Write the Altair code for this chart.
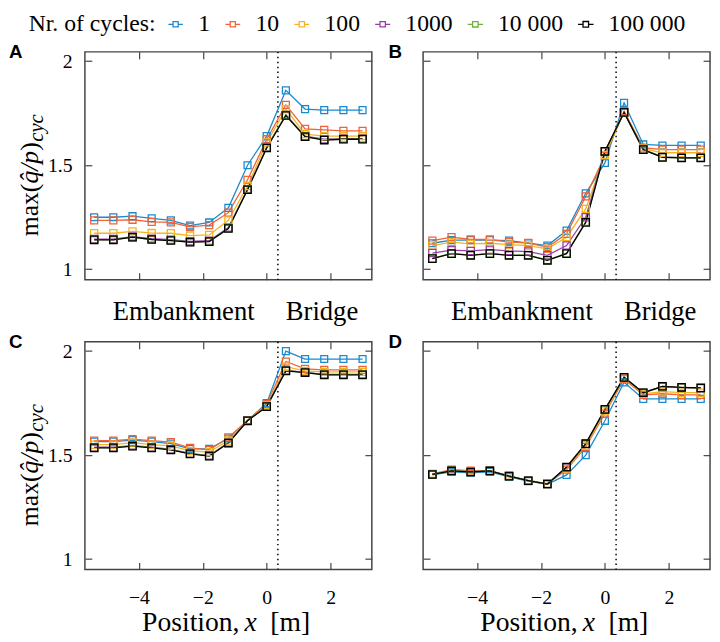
import altair as alt
import pandas as pd

# ---------------- data ----------------
x_pos = [-5.4, -4.8, -4.2, -3.6, -3.0, -2.4, -1.8, -1.2, -0.6, 0.0, 0.6, 1.2, 1.8, 2.4, 3.0]
cycles = ["1", "10", "100", "1000", "10 000", "100 000"]
colors = ["#1a8acd", "#ef6339", "#f4b41f", "#9a3ea6", "#70b23c", "#000000"]

a_1 = [1.250, 1.250, 1.255, 1.245, 1.235, 1.210, 1.225, 1.295, 1.500, 1.640, 1.860, 1.770, 1.765, 1.765, 1.765]
a_10 = [1.235, 1.235, 1.238, 1.228, 1.225, 1.204, 1.212, 1.272, 1.430, 1.625, 1.790, 1.675, 1.670, 1.665, 1.665]
a_100 = [1.173, 1.173, 1.182, 1.174, 1.173, 1.162, 1.165, 1.235, 1.400, 1.610, 1.770, 1.650, 1.640, 1.640, 1.640]
a_1000 = [1.145, 1.145, 1.157, 1.147, 1.142, 1.134, 1.137, 1.200, 1.385, 1.588, 1.742, 1.640, 1.625, 1.628, 1.628]
a_10000 = [1.142, 1.142, 1.153, 1.144, 1.139, 1.131, 1.134, 1.197, 1.383, 1.585, 1.741, 1.638, 1.623, 1.626, 1.626]
a_100000 = [1.141, 1.141, 1.154, 1.143, 1.138, 1.130, 1.133, 1.196, 1.382, 1.583, 1.739, 1.637, 1.621, 1.625, 1.625]

b_1 = [1.125, 1.140, 1.140, 1.140, 1.138, 1.125, 1.114, 1.186, 1.365, 1.511, 1.800, 1.600, 1.595, 1.595, 1.595]
b_10 = [1.138, 1.154, 1.143, 1.143, 1.130, 1.127, 1.106, 1.170, 1.350, 1.545, 1.760, 1.585, 1.575, 1.575, 1.575]
b_100 = [1.114, 1.130, 1.122, 1.125, 1.118, 1.114, 1.098, 1.154, 1.290, 1.550, 1.755, 1.580, 1.560, 1.560, 1.560]
b_1000 = [1.078, 1.092, 1.088, 1.094, 1.088, 1.085, 1.067, 1.114, 1.250, 1.565, 1.754, 1.575, 1.540, 1.537, 1.537]
b_10000 = [1.052, 1.076, 1.068, 1.076, 1.068, 1.068, 1.044, 1.077, 1.228, 1.567, 1.754, 1.575, 1.539, 1.536, 1.536]
b_100000 = [1.051, 1.075, 1.067, 1.075, 1.067, 1.067, 1.043, 1.075, 1.225, 1.567, 1.754, 1.575, 1.538, 1.535, 1.535]

c_1 = [1.565, 1.565, 1.572, 1.565, 1.555, 1.530, 1.530, 1.580, 1.667, 1.750, 2.000, 1.962, 1.962, 1.962, 1.962]
c_10 = [1.570, 1.570, 1.577, 1.570, 1.562, 1.535, 1.525, 1.585, 1.667, 1.745, 1.950, 1.915, 1.910, 1.910, 1.910]
c_100 = [1.550, 1.550, 1.560, 1.550, 1.545, 1.520, 1.515, 1.570, 1.667, 1.740, 1.925, 1.905, 1.900, 1.900, 1.900]
c_1000 = [1.538, 1.538, 1.546, 1.538, 1.528, 1.508, 1.498, 1.560, 1.666, 1.735, 1.908, 1.898, 1.888, 1.888, 1.888]
c_10000 = [1.536, 1.536, 1.544, 1.536, 1.526, 1.507, 1.496, 1.559, 1.665, 1.734, 1.906, 1.898, 1.887, 1.887, 1.887]
c_100000 = [1.535, 1.535, 1.543, 1.535, 1.525, 1.506, 1.495, 1.558, 1.665, 1.733, 1.905, 1.897, 1.886, 1.886, 1.886]

d_1 = [1.405, 1.420, 1.415, 1.420, 1.395, 1.375, 1.360, 1.405, 1.500, 1.665, 1.850, 1.770, 1.770, 1.770, 1.770]
d_10 = [1.410, 1.430, 1.425, 1.425, 1.400, 1.378, 1.362, 1.430, 1.540, 1.700, 1.865, 1.790, 1.795, 1.790, 1.790]
d_100 = [1.408, 1.427, 1.421, 1.425, 1.400, 1.378, 1.362, 1.435, 1.545, 1.710, 1.870, 1.795, 1.805, 1.800, 1.800]
d_1000 = [1.407, 1.424, 1.419, 1.424, 1.399, 1.377, 1.361, 1.440, 1.553, 1.718, 1.873, 1.800, 1.828, 1.824, 1.822]
d_10000 = [1.407, 1.424, 1.419, 1.424, 1.399, 1.377, 1.361, 1.442, 1.554, 1.719, 1.874, 1.800, 1.830, 1.825, 1.823]
d_100000 = [1.407, 1.424, 1.419, 1.424, 1.399, 1.377, 1.361, 1.443, 1.555, 1.720, 1.874, 1.800, 1.831, 1.826, 1.823]

panels = {
    "A": [a_1, a_10, a_100, a_1000, a_10000, a_100000],
    "B": [b_1, b_10, b_100, b_1000, b_10000, b_100000],
    "C": [c_1, c_10, c_100, c_1000, c_10000, c_100000],
    "D": [d_1, d_10, d_100, d_1000, d_10000, d_100000],
}

bridge_start = [0.35]
annot_labels = ["Embankment", "Bridge"]
annot_x = [-2.6, 1.73]

y_ticks = [1, 1.5, 2]
x_ticks = [-4, -2, 0, 2]

rows = []
for pname, series in panels.items():
    for cyc, vals in zip(cycles, series):
        for xv, yv in zip(x_pos, vals):
            rows.append({"panel": pname, "cycles": cyc, "series": cyc, "x": xv, "y": yv})
df = pd.DataFrame(rows)
annot_df = pd.DataFrame({"label": annot_labels, "x": annot_x})
bridge_df = pd.DataFrame({"x": bridge_start})

# ---------------- styling ----------------
W, H = 291, 231
SERIF = "Liberation Serif"
TICK = "#444444"
point_sizes = [49, 56, 64, 72, 64, 121]
point_strokes = [1.4, 1.4, 1.4, 1.6, 2.6, 1.8]
line_strokes = [1.3, 1.3, 1.3, 1.3, 1.4, 1.7]

# legend glyph: short line, small square, short line (drawn wider than its nominal box)
legend_symbol = "M-2.1,0L-0.75,0M0.75,0L2.1,0M-0.75,-0.75L0.75,-0.75L0.75,0.75L-0.75,0.75Z"
legend = alt.Legend(
    orient="none", legendX=-57, legendY=-40, direction="horizontal",
    title="Nr. of cycles:", titleOrient="left",
    titleFont=SERIF, titleFontSize=24, titleFontWeight="normal", titleColor="black",
    titlePadding=8, labelFont=SERIF, labelFontSize=24, labelColor="black", labelOffset=11,
    columnPadding=11, symbolType=legend_symbol, symbolSize=100, symbolStrokeWidth=1.4,
    symbolFillColor="transparent", padding=0,
)

xscale = alt.Scale(domain=[-5.69, 3.29], nice=False, zero=False)
yscale = alt.Scale(domain=[0.95, 2.045], nice=False, zero=False)
color_enc = alt.Color("cycles:N", scale=alt.Scale(domain=cycles, range=colors), legend=legend)


def axis(orient, values, labels, pad):
    return alt.Axis(
        orient=orient, values=values, format="~g", tickSize=7, offset=-7,
        domain=False, grid=False, labels=labels, labelFont=SERIF, labelFontSize=20,
        labelColor="black", labelPadding=pad, title=None, tickColor=TICK, tickWidth=1.2,
        **({"labelBaseline": "alphabetic"} if orient == "bottom" else {}),
    )


def txt(text, x, y, size, style="normal", align="left", angle=0, font=SERIF, weight="normal"):
    kw = dict(text=text, font=font, fontSize=size, fontStyle=style, fontWeight=weight,
              align=align, baseline="alphabetic", color="black")
    if angle:
        kw["angle"] = angle
    return alt.Chart(pd.DataFrame({"k": [0]})).mark_text(**kw).encode(
        x=alt.value(x), y=alt.value(y))


def panel(letter, left, bottom):
    d = df[df.panel == letter]
    base = alt.Chart(d)
    lines = base.mark_line().encode(
        x=alt.X("x:Q", scale=xscale, axis=axis("bottom", x_ticks, bottom, 34)),
        y=alt.Y("y:Q", scale=yscale, axis=axis("left", y_ticks, left, 13)),
        color=color_enc,
        strokeWidth=alt.StrokeWidth("series:N", scale=alt.Scale(domain=cycles, range=line_strokes), legend=None),
    )
    points = base.mark_point(shape="square", filled=False, opacity=1).encode(
        x=alt.X("x:Q", scale=xscale, axis=None),
        y=alt.Y("y:Q", scale=yscale, axis=None),
        color=color_enc,
        size=alt.Size("series:N", scale=alt.Scale(domain=cycles, range=point_sizes), legend=None),
        strokeWidth=alt.StrokeWidth("series:N", scale=alt.Scale(domain=cycles, range=point_strokes), legend=None),
    )
    mirror = base.mark_point(opacity=0).encode(
        x=alt.X("x:Q", scale=xscale, axis=axis("top", x_ticks, False, 2)),
        y=alt.Y("y:Q", scale=yscale, axis=axis("right", y_ticks, False, 2)),
    )
    rule = alt.Chart(bridge_df).mark_rule(color="black", strokeDash=[1.5, 3.5], strokeWidth=1.5).encode(
        x=alt.X("x:Q", scale=xscale, axis=None))
    layers = [rule, lines, points, mirror,
              txt(letter, -77 if left else -35, 6, 19, font="Liberation Sans", weight="bold")]
    if left:
        yb = 187
        layers += [
            txt("max(", -47.7, yb, 26, angle=270),
            txt("q\u0302/p", -47.7, yb - 53.4, 26, style="italic", angle=270),
            txt(")", -47.7, yb - 86.6, 26, angle=270),
            txt("cyc", -42.5, yb - 95.8, 21, style="italic", angle=270),
        ]
    if not bottom:
        layers.append(
            alt.Chart(annot_df).mark_text(font=SERIF, fontSize=27, baseline="alphabetic",
                                          align="center", color="black").encode(
                x=alt.X("x:Q", scale=xscale, axis=None), y=alt.value(H + 41), text="label:N"))
    else:
        layers += [
            txt("Position,", 58, H + 62, 28),
            txt("x", 168, H + 62, 28, style="italic", align="center"),
            txt("[m]", 188, H + 62, 28),
        ]
    return alt.layer(*layers).properties(width=W, height=H).resolve_axis(x="independent", y="independent")


chart = alt.concat(
    panel("A", True, False), panel("B", False, False),
    panel("C", True, True), panel("D", False, True),
    columns=2, spacing={"row": 63, "column": 52}, bounds="flush",
).resolve_scale(color="shared").properties(
    padding={"left": 0, "top": 0, "right": 0, "bottom": 0}
).configure_view(stroke="#444444", strokeWidth=1.5)

chart.save("out.html", embed_options={"renderer": "svg", "actions": False})
